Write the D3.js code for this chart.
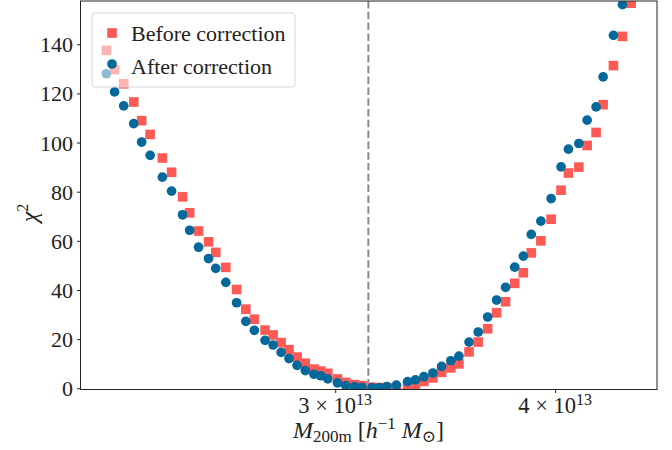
<!DOCTYPE html>
<html>
<head>
<meta charset="utf-8">
<script src="https://cdn.jsdelivr.net/npm/d3@7"></script>
<style>
  html, body { margin: 0; padding: 0; background: #fff; }
  svg text { font-family: "Liberation Serif", "DejaVu Serif", serif; fill: #222; }
</style>
</head>
<body>
<div id="chart"></div>
<script>
// halo mass grid, in units of 1e13 h^-1 Msun
const mass = [2.224, 2.248, 2.275, 2.305, 2.329, 2.355, 2.393, 2.422, 2.457, 2.480,
  2.509, 2.542, 2.566, 2.600, 2.637, 2.669, 2.699, 2.737, 2.766, 2.795,
  2.824, 2.854, 2.885, 2.918, 2.944, 2.971, 3.009, 3.042, 3.077, 3.107,
  3.148, 3.179, 3.210, 3.250, 3.298, 3.332, 3.369, 3.409, 3.448, 3.490,
  3.527, 3.574, 3.617, 3.662, 3.705, 3.749, 3.794, 3.837, 3.877, 3.926,
  3.979, 4.031, 4.070, 4.126, 4.171, 4.220, 4.259, 4.317, 4.368, 4.418];

const chi2Before = [137.5, 129.7, 123.9, 116.5, 108.9, 103.3, 93.7, 87.9, 77.9, 71.4,
  64.0, 59.6, 55.3, 49.2, 40.2, 32.2, 28.1, 23.7, 21.7, 18.6,
  15.7, 12.7, 10.2, 7.8, 7.0, 6.1, 3.8, 2.4, 1.5, 1.1,
  0.4, 0.25, 0.25, 0.1, 0.9, 1.6, 2.8, 4.2, 6.5, 8.3,
  9.9, 14.8, 18.8, 24.2, 30.7, 35.2, 42.7, 47.0, 55.1, 60.0,
  68.8, 80.6, 87.6, 90.0, 98.8, 104.1, 115.4, 131.3, 143.2, 156.7];

const chi2After = [128.0, 120.6, 114.9, 107.7, 100.2, 94.8, 85.9, 80.2, 70.6, 64.3,
  57.4, 52.8, 48.8, 43.1, 34.8, 27.2, 23.6, 19.5, 17.6, 14.6,
  12.1, 9.3, 7.2, 5.7, 5.1, 3.8, 2.2, 1.1, 0.65, 0.4,
  0.25, 0.25, 0.7, 1.3, 2.7, 3.4, 4.7, 6.2, 8.9, 11.2,
  13.1, 18.8, 22.9, 29.0, 35.9, 41.1, 49.3, 53.8, 62.6, 68.0,
  77.2, 90.1, 97.3, 99.6, 109.1, 114.5, 126.7, 143.6, 156.1, null];

const bestMass = 3.133;
const xTicks = [3, 4];
const yTicks = [0, 20, 40, 60, 80, 100, 120, 140];
const labels = ["Before correction", "After correction"];

const W = 672, H = 450;
const margin = { top: 1, right: 15, bottom: 60.5, left: 80.5 };
const width = W - margin.left - margin.right;
const height = H - margin.top - margin.bottom;

const colBefore = "#fd5a56";
const colAfter = "#03699a";

const svg = d3.select("#chart").append("svg")
  .attr("width", W).attr("height", H);

const g = svg.append("g")
  .attr("transform", `translate(${margin.left},${margin.top})`);

const x = d3.scaleLog().domain([2.150, 4.570]).range([0, width]);
const y = d3.scaleLinear().domain([-0.5, 157.6]).range([height, 0]);

// clip for markers
svg.append("defs").append("clipPath").attr("id", "clip")
  .append("rect").attr("width", width).attr("height", height);

const plot = g.append("g").attr("clip-path", "url(#clip)");

// best-fit mass line
plot.append("line")
  .attr("x1", x(bestMass)).attr("x2", x(bestMass))
  .attr("y1", 0).attr("y2", height)
  .attr("stroke", "#8a8a8a")
  .attr("stroke-width", 2)
  .attr("stroke-dasharray", "7.5,3.3");

const before = mass.map((m, i) => ({ m, v: chi2Before[i] })).filter(d => d.v != null);
const after = mass.map((m, i) => ({ m, v: chi2After[i] })).filter(d => d.v != null);

const sq = 9.6;
plot.selectAll(".sq").data(before).enter().append("rect")
  .attr("class", "sq")
  .attr("x", d => x(d.m) - sq / 2)
  .attr("y", d => y(d.v) - sq / 2)
  .attr("width", sq).attr("height", sq)
  .attr("fill", colBefore);

plot.selectAll(".dot").data(after).enter().append("circle")
  .attr("class", "dot")
  .attr("cx", d => x(d.m))
  .attr("cy", d => y(d.v))
  .attr("r", 4.85)
  .attr("fill", colAfter);

// axes
const xAxis = g.append("g")
  .attr("transform", `translate(0,${height})`)
  .call(d3.axisBottom(x).tickValues(xTicks).tickSize(3.5).tickFormat(""));
xAxis.select(".domain").remove();
xAxis.selectAll("line").attr("stroke", "#222");

const xl = g.append("g").selectAll("text").data(xTicks).enter().append("text")
  .attr("x", d => x(d))
  .attr("y", height + 23.5)
  .attr("text-anchor", "middle")
  .style("font-size", "22.5px");
xl.append("tspan").text(d => `${d} × 10`);
xl.append("tspan").attr("dy", -8.5).style("font-size", "16px").text("13");

const yAxis = g.append("g")
  .call(d3.axisLeft(y).tickValues(yTicks).tickSize(3.5).tickPadding(4));
yAxis.select(".domain").remove();
yAxis.selectAll("line").attr("stroke", "#222");
yAxis.selectAll("text")
  .attr("dy", "0.34em")
  .style("font-family", "'Liberation Serif', serif")
  .style("font-size", "22px")
  .style("fill", "#222");

// frame
g.append("rect")
  .attr("width", width).attr("height", height)
  .attr("fill", "none").attr("stroke", "#222").attr("stroke-width", 1);

// axis labels
const xlab = svg.append("text")
  .attr("x", 293).attr("y", 438)
  .style("font-size", "24px");
xlab.append("tspan").style("font-style", "italic").text("M");
xlab.append("tspan").attr("dy", 4).style("font-size", "17px").text("200m");
xlab.append("tspan").attr("dy", -4).text(" [");
xlab.append("tspan").style("font-style", "italic").text("h");
xlab.append("tspan").attr("dy", -9).style("font-size", "17px").text("−1");
xlab.append("tspan").attr("dy", 9).text(" ");
xlab.append("tspan").style("font-style", "italic").text("M");
xlab.append("tspan").attr("dy", 4).style("font-size", "17px").text("⊙");
xlab.append("tspan").attr("dy", -4).text("]");

const ylab = svg.append("text")
  .attr("transform", "translate(37,213) rotate(-90)")
  .attr("text-anchor", "middle")
  .style("font-size", "24px");
ylab.append("tspan").style("font-style", "italic").text("χ");
ylab.append("tspan").attr("dy", -9).style("font-size", "16px").text("2");

// legend
const leg = svg.append("g");
leg.append("rect")
  .attr("x", 92).attr("y", 13)
  .attr("width", 203).attr("height", 74)
  .attr("rx", 3)
  .attr("fill", "#fff").attr("fill-opacity", 0.55)
  .attr("stroke", "#d6d6d6");
leg.append("rect")
  .attr("x", 112 - sq / 2).attr("y", 33 - sq / 2)
  .attr("width", sq).attr("height", sq)
  .attr("fill", colBefore);
leg.append("circle")
  .attr("cx", 112).attr("cy", 64).attr("r", 4.85)
  .attr("fill", colAfter);
leg.selectAll(".lt").data(labels).enter().append("text")
  .attr("x", 131)
  .attr("y", (d, i) => 40.5 + i * 33.5)
  .style("font-size", "22px")
  .text(d => d);
</script>
</body>
</html>
